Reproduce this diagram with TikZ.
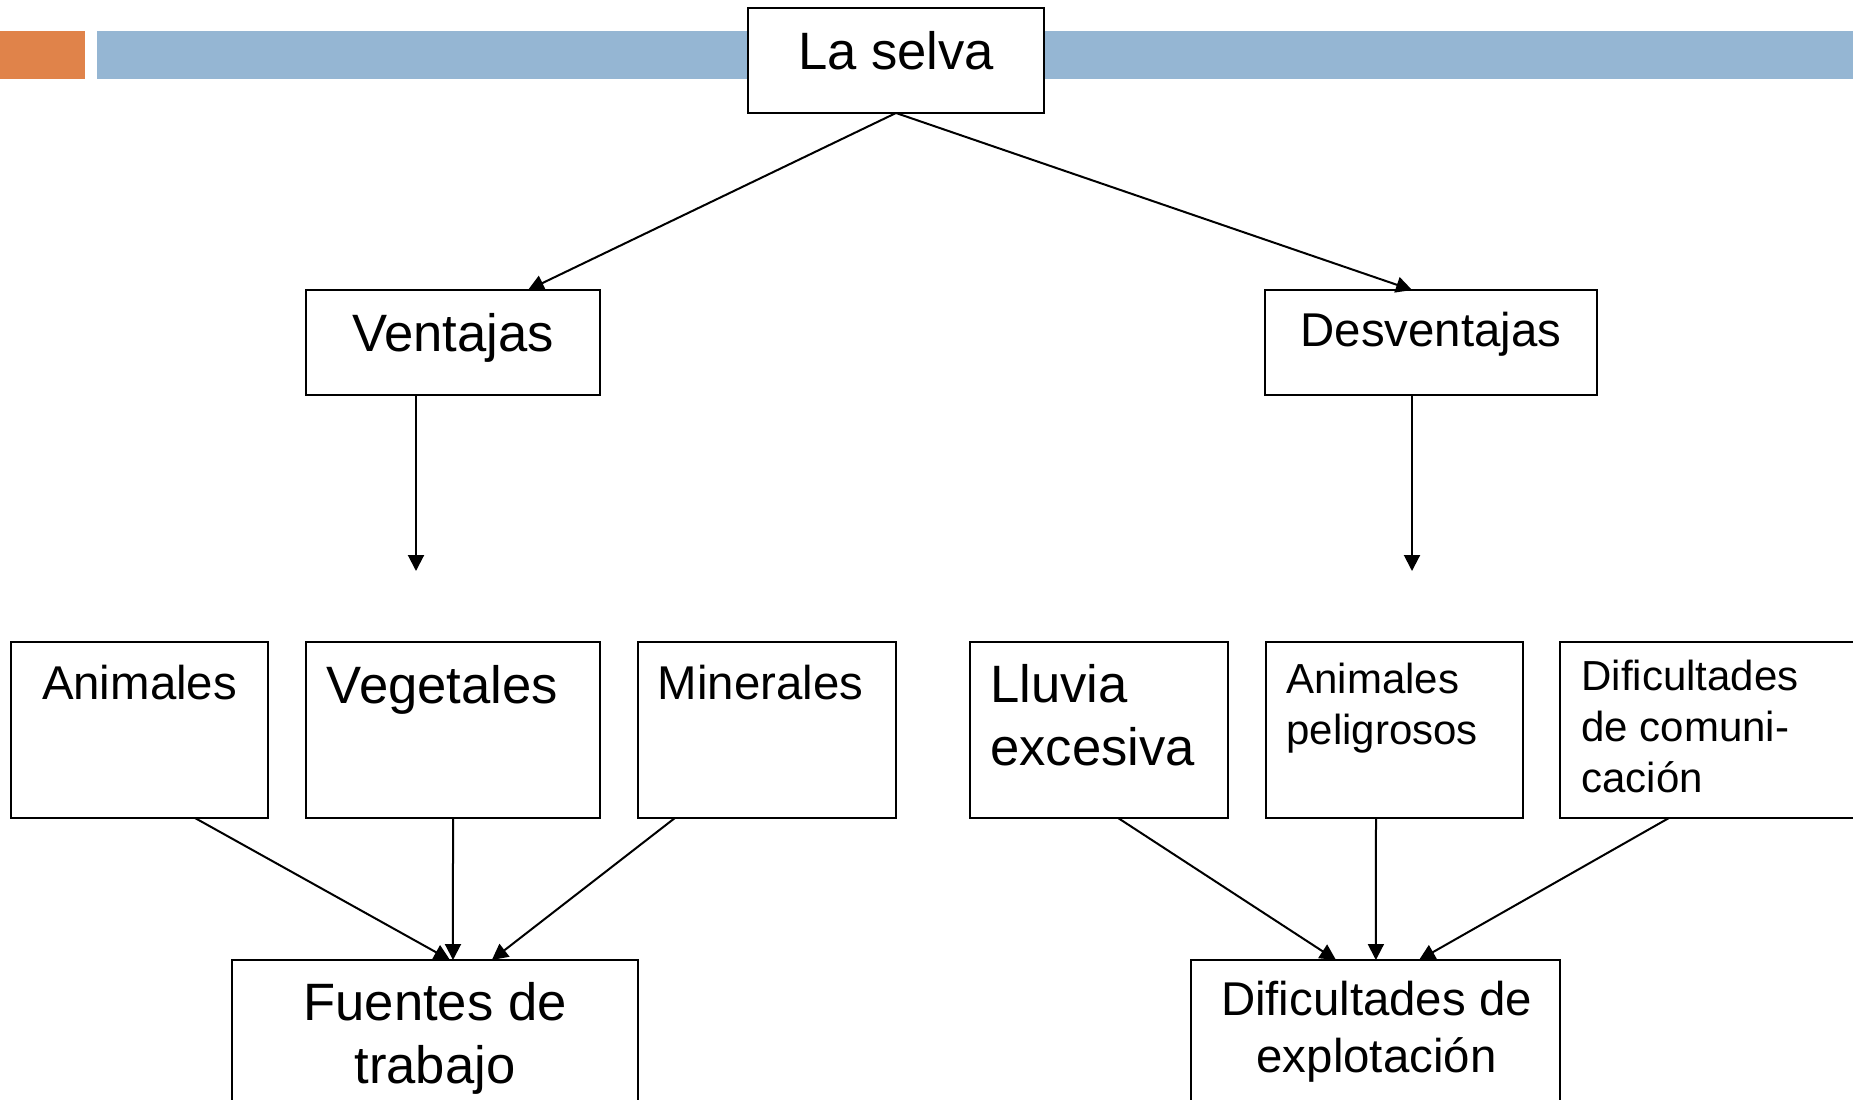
\documentclass[tikz,border=0pt]{standalone}
\usepackage{fontspec}
\setmainfont{Liberation Sans}
\usetikzlibrary{arrows.meta,calc}
\definecolor{barorange}{RGB}{224,131,74}
\definecolor{barblue}{RGB}{149,182,211}
\tikzset{
  caja/.style={draw, fill=white, line width=1pt, inner sep=0pt, outer sep=0pt},
  flecha/.style={-{Triangle[length=8pt,width=8pt]}, line width=1pt},
  grande/.style={font=\fontsize{26.3}{31.6}\selectfont},
  mediana/.style={font=\fontsize{23.7}{28.4}\selectfont},
  chica/.style={font=\fontsize{21}{25.4}\selectfont},
}
\begin{document}
\begin{tikzpicture}[x=0.5pt,y=-0.5pt]
	\useasboundingbox (0,0) rectangle (1853,1099);
	\clip (0,0) rectangle (1853,1099);
	% barra superior
	\fill[barorange] (0,31) rectangle (85,79);
	\fill[barblue] (97,31) rectangle (1853,79);

	% cajas
	\node[caja, minimum width=148pt, minimum height=52.5pt] (selva) at (896,60.5) {};
	\node[caja, minimum width=147pt, minimum height=52.5pt] (vent) at (453,342.5) {};
	\node[caja, minimum width=166pt, minimum height=52.5pt] (desv) at (1431,342.5) {};

	\node[caja, minimum width=128.5pt, minimum height=88pt] (anim) at (139.5,730) {};
	\node[caja, minimum width=147pt, minimum height=88pt] (veget) at (453,730) {};
	\node[caja, minimum width=129pt, minimum height=88pt] (miner) at (767,730) {};
	\node[caja, minimum width=129pt, minimum height=88pt] (lluvia) at (1099,730) {};
	\node[caja, minimum width=128.5pt, minimum height=88pt] (pelig) at (1394.5,730) {};
	\node[caja, minimum width=150pt, minimum height=88pt] (comun) at (1710,730) {};

	\node[caja, minimum width=203pt, minimum height=80pt] (fuentes) at (435,1040) {};
	\node[caja, minimum width=184.5pt, minimum height=80pt] (explot) at (1375.5,1040) {};

	% textos (base = ultima linea)
	\node[grande, anchor=base] (tselva) at (896,69.5) {La selva};
	\node[grande, anchor=base] (tvent) at (453,351) {Ventajas};
	\node[mediana, anchor=base] (tdesv) at (1431,346.5) {Desventajas};
	\node[mediana, anchor=base] (tanim) at (139.5,699.5) {Animales};
	\node[grande, anchor=base] (tveget) at (442.5,703.5) {Vegetales};
	\node[mediana, anchor=base] (tminer) at (760.5,699.5) {Minerales};
	\node[grande, anchor=base west, align=left, inner sep=0pt] (tlluvia) at (990,765.5) {Lluvia\\excesiva};
	\node[chica, anchor=base west, align=left, inner sep=0pt] (tpelig) at (1286,744.5) {Animales\\peligrosos};
	\node[chica, anchor=base west, align=left, inner sep=0pt] (tcomun) at (1581,792.5) {Dificultades\\de comuni-\\cación};
	\node[grande, anchor=base, align=center] (tfuentes) at (435,1083.5) {Fuentes de\\trabajo};
	\node[mediana, anchor=base, align=center] (texplot) at (1376.5,1072) {Dificultades de\\explotación};

	% flechas
	\coordinate (ventfin) at (416,571);
	\coordinate (desvfin) at (1412,571);
	\draw[flecha] (selva.south) -- ($(vent.north west)!0.755!(vent.north east)$);
	\draw[flecha] (selva.south) -- ($(desv.north west)!0.443!(desv.north east)$);
	\draw[flecha] (vent.south -| ventfin) -- (ventfin);
	\draw[flecha] (desv.south -| desvfin) -- (desvfin);

	\draw[flecha] ($(anim.south west)!0.716!(anim.south east)$) -- ($(fuentes.north west)!0.537!(fuentes.north east)$);
	\draw[flecha] (veget.south) -- ($(fuentes.north west)!0.5443!(fuentes.north east)$);
	\draw[flecha] ($(miner.south west)!0.143!(miner.south east)$) -- ($(fuentes.north west)!0.64!(fuentes.north east)$);

	\draw[flecha] ($(lluvia.south west)!0.574!(lluvia.south east)$) -- ($(explot.north west)!0.393!(explot.north east)$);
	\draw[flecha] ($(pelig.south west)!0.428!(pelig.south east)$) -- ($(explot.north west)!0.501!(explot.north east)$);
	\draw[flecha] ($(comun.south west)!0.363!(comun.south east)$) -- ($(explot.north west)!0.618!(explot.north east)$);
\end{tikzpicture}
\end{document}
